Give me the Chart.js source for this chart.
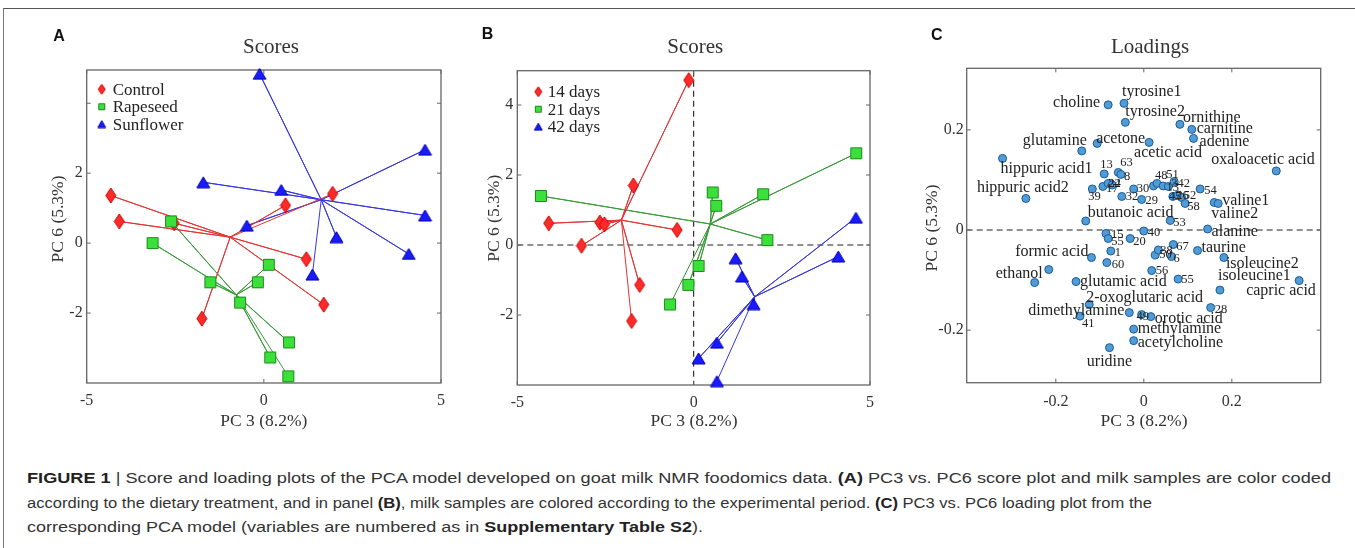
<!DOCTYPE html>
<html>
<head>
<meta charset="utf-8">
<script src="https://cdn.jsdelivr.net/npm/chart.js@4.4.0/dist/chart.umd.min.js"></script>
<style>
  body { margin: 0; background: #fff; }
  #fig { position: relative; width: 1355px; height: 548px; overflow: hidden; background: #fff; }
  #frame { position: absolute; left: 3px; top: 8px; width: 1400px; height: 600px;
           border-top: 1px solid #555; border-left: 1px solid #777; }
  canvas { position: absolute; top: 0; }
  .cap { position: absolute; left: 27px; font-family: "Liberation Sans", Arial, sans-serif;
         font-size: 15.5px; color: #333; white-space: nowrap; transform-origin: 0 50%;
         line-height: 20px; height: 20px; }
  .cap b { font-weight: bold; color: #222; }
</style>
</head>
<body>
<div id="fig">
  <div id="frame"></div>
  <canvas id="cA"></canvas>
  <canvas id="cB"></canvas>
  <canvas id="cC"></canvas>
  <div class="cap" id="l1" data-w="1304" style="top:468px"><b>FIGURE 1</b> | Score and loading plots of the PCA model developed on goat milk NMR foodomics data. <b>(A)</b> PC3 vs. PC6 score plot and milk samples are color coded</div>
  <div class="cap" id="l2" data-w="1125" style="top:493px">according to the dietary treatment, and in panel <b>(B)</b>, milk samples are colored according to the experimental period. <b>(C)</b> PC3 vs. PC6 loading plot from the</div>
  <div class="cap" id="l3" data-w="676" style="top:517px">corresponding PCA model (variables are numbered as in <b>Supplementary Table S2</b>).</div>
</div>
<script>
// ---- panel A: diet groups (PC3, PC6) ----
const controlA   = [[-4.32,1.36],[-4.08,0.62],[-2.53,0.57],[-1.75,-2.16],[0.61,1.08],[1.20,-0.46],[1.69,-1.76],[1.94,1.41]];
const rapeseedA  = [[-2.62,0.62],[-3.14,0.00],[-1.51,-1.12],[0.14,-0.62],[-0.17,-1.12],[-0.67,-1.70],[0.71,-2.84],[0.18,-3.27],[0.69,-3.81]];
const sunflowerA = [[-0.12,4.84],[4.55,2.67],[-1.71,1.74],[0.49,1.52],[-0.48,0.50],[2.05,0.17],[4.55,0.79],[4.09,-0.31],[1.37,-0.90]];
const centersA   = [[-0.95,0.17],[-0.78,-1.48],[1.62,1.24]];
const legendA    = ["Control", "Rapeseed", "Sunflower"];

// ---- panel B: sampling period ----
const days14 = [[-0.14,4.71],[-1.71,1.70],[-4.11,0.62],[-2.66,0.64],[-2.53,0.59],[-3.18,-0.02],[-0.47,0.43],[-1.53,-1.14],[-1.76,-2.17]];
const days21 = [[-4.33,1.40],[4.61,2.62],[0.54,1.50],[0.64,1.12],[1.97,1.45],[2.09,0.14],[0.14,-0.60],[-0.15,-1.14],[-0.67,-1.70]];
const days42 = [[4.60,0.78],[4.10,-0.33],[1.19,-0.38],[1.37,-0.90],[1.70,-1.69],[0.66,-2.79],[0.14,-3.24],[0.66,-3.89]];
const centersB = [[-2.05,0.71],[0.47,0.60],[1.73,-1.48]];
const legendB  = ["14 days", "21 days", "42 days"];

// score axes
const scoreXTicks = [-5, 0, 5];
const scoreYTicks = [-2, 0, 2, 4];

// ---- panel C: loadings ----
const loadX = [-0.321,-0.268,-0.141,-0.106,-0.081,-0.045,-0.042,0.012,-0.090,-0.058,-0.052,-0.117,-0.093,-0.081,-0.072,-0.050,-0.023,-0.005,
  -0.132,-0.086,-0.081,-0.031,0.000,-0.075,-0.119,-0.084,-0.216,-0.248,-0.154,-0.124,-0.145,-0.033,-0.005,0.016,-0.023,-0.023,-0.078,
  0.026,0.033,0.018,0.022,0.030,0.044,0.056,0.069,0.066,0.078,0.086,0.094,0.128,0.160,0.169,0.060,0.145,0.082,0.109,0.113,0.301,
  0.067,0.122,0.063,0.078,0.182,0.173,0.353,0.152];
const loadY = [0.143,0.063,0.158,0.173,0.250,0.253,0.215,0.175,0.112,0.115,0.111,0.082,0.087,0.093,0.090,0.067,0.082,0.061,
  0.018,-0.007,-0.017,-0.017,-0.002,-0.042,-0.055,-0.065,-0.079,-0.105,-0.103,-0.149,-0.172,-0.165,-0.169,-0.173,-0.198,-0.221,-0.235,
  -0.050,-0.040,-0.081,0.088,0.093,0.088,0.087,0.097,0.067,0.070,0.065,0.053,0.082,0.055,0.053,0.019,0.002,0.211,0.201,0.183,0.118,
  -0.029,-0.041,-0.053,-0.098,-0.055,-0.120,-0.101,-0.155];
const loadName = ["hippuric acid1","hippuric acid2","glutamine","acetone","choline","tyrosine1","tyrosine2","acetic acid","13","63","8","39","17","22","24","32","30","29",
  "butanoic acid","15","55","20","40","1","formic acid","60","ethanol","","glutamic acid","2-oxoglutaric acid","41","dimethylamine","49","orotic acid","methylamine","acetylcholine","uridine",
  "50","38","56","","48","51","13","342","45","26","52","58","54","valine2","valine1","53","alanine","ornithine","carnitine","adenine","oxaloacetic acid",
  "67","taurine","6","55","isoleucine2","isoleucine1","capric acid","28"];
const loadTicks = [-0.2, 0, 0.2];

// label placement for panel C: [align, dx px, dy px]
const labelPlace = [["l",-2,10.6],["l",-49,-11],["r",5,-10],["l",-1,-5],["r",-8,-2],["l",-2,-12],["l",0,-11],["l",-15,10],
  ["l",-4,-9],["l",2,-10],["l",3,2],["l",-4,8],["l",3,2],["l",0,0],["l",-4,-1],["l",4,0],["l",3,0],["l",4,1],
  ["l",2,-8],["l",5,1],["l",3,3],["l",3,3],["l",4,2],["l",4,2],["r",-3,-5.6],["l",5,2],["r",-6,4],["l",0,0],["l",4,0],["l",-3,-7],
  ["l",2,8],["r",-5,-2],["l",-5,2],["l",4,2],["l",4,0],["l",4,2],["c",0,13.7],
  ["l",4,0],["l",2,1],["l",4,0],["l",0,0],["l",-2,-8],["l",3,-11],["l",-2,1],["l",-3,2],["l",-4,0],["l",-2,1],["l",2,-2],["l",2,3],["l",4,2],
  ["l",-3,11],["l",4,-3],["l",3,2],["l",4,3],["l",3,-7],["l",5,-1],["l",6,3],["l",-65,-11],
  ["l",3,2],["l",4,-3],["l",2,2],["l",3,1],["l",2,6],["l",-2,-14],["l",-53,10],["l",4,2]];

const SERIF = '"Liberation Serif", "Times New Roman", serif';
const RED = { fill: "#ff2b2b", edge: "#c40000", line: "#e53333" };
const GRN = { fill: "#3be03b", edge: "#1c8a1c", line: "#3a9a3a" };
const BLU = { fill: "#1a1aff", edge: "#0000a8", line: "#3636e0" };

function marker(shape, w, h, fill, stroke) {
  const c = document.createElement("canvas");
  c.width = w + 2; c.height = h + 2;
  const g = c.getContext("2d");
  g.translate(1, 1);
  g.beginPath();
  if (shape === "diamond") { g.moveTo(w/2, 0); g.lineTo(w, h/2); g.lineTo(w/2, h); g.lineTo(0, h/2); }
  else if (shape === "square") { g.rect(0.5, 0.5, w - 1, h - 1); }
  else { g.moveTo(w/2, 0); g.lineTo(w, h); g.lineTo(0, h); }
  g.closePath();
  g.fillStyle = fill; g.fill();
  g.strokeStyle = stroke; g.lineWidth = 1; g.stroke();
  return c;
}

const bigM = [marker("diamond", 10, 15, RED.fill, RED.edge), marker("square", 12, 12, GRN.fill, GRN.edge), marker("tri", 13, 11, BLU.fill, BLU.edge)];
const smallM = [marker("diamond", 7, 10, RED.fill, RED.edge), marker("square", 7, 7, GRN.fill, GRN.edge), marker("tri", 8, 7, BLU.fill, BLU.edge)];

const pts = arr => arr.map(([x, y]) => ({ x, y }));
function star(arr, c) {
  const out = [];
  arr.forEach(([x, y]) => { out.push({ x: c[0], y: c[1] }); out.push({ x, y }); });
  return out;
}

function axis(min, max, ticks, pad, label, fit) {
  return {
    type: "linear", min, max,
    afterBuildTicks: s => { s.ticks = ticks.map(v => ({ value: v })); },
    afterFit: fit,
    grid: { display: false, drawTicks: false },
    border: { display: false },
    ticks: { padding: pad, color: "#333", autoSkip: false, maxRotation: 0,
             font: { family: SERIF, size: 16 }, callback: label }
  };
}

function groupSets(groups, centers) {
  const cols = [RED, GRN, BLU];
  const sets = [];
  groups.forEach((g, i) => {
    sets.push({ data: star(g, centers[i]), showLine: true, borderColor: cols[i].line, borderWidth: 1,
                pointRadius: 0, order: 10 + i, clip: false });
  });
  groups.forEach((g, i) => {
    sets.push({ data: pts(g), pointStyle: bigM[i], pointRadius: 7, order: 3 - i, clip: false });
  });
  return sets;
}

function panel(id, box, frame, o) {
  const cv = document.getElementById(id);
  cv.style.left = box.left + "px";
  cv.width = box.w; cv.height = box.h;
  cv.style.width = box.w + "px"; cv.style.height = box.h + "px";
  const X = v => v - box.left;
  const decor = {
    id: "decor",
    beforeDatasetsDraw(chart) {
      const { ctx, chartArea: a, scales: { x, y } } = chart;
      ctx.save();
      ctx.strokeStyle = "#222"; ctx.lineWidth = 1.1; ctx.setLineDash([6, 4]);
      if (o.zeroX) { const px = x.getPixelForValue(0); ctx.beginPath(); ctx.moveTo(px, a.top); ctx.lineTo(px, a.bottom); ctx.stroke(); }
      if (o.zeroY) { const py = y.getPixelForValue(0); ctx.beginPath(); ctx.moveTo(a.left, py); ctx.lineTo(a.right, py); ctx.stroke(); }
      ctx.setLineDash([]);
      ctx.strokeStyle = "#666"; ctx.lineWidth = 1.3;
      ctx.strokeRect(a.left, a.top, a.right - a.left, a.bottom - a.top);
      ctx.lineWidth = 1;
      ctx.beginPath();
      o.xt.forEach(v => { const px = x.getPixelForValue(v);
        ctx.moveTo(px, a.bottom); ctx.lineTo(px, a.bottom - 4); ctx.moveTo(px, a.top); ctx.lineTo(px, a.top + 4); });
      o.yt.forEach(v => { const py = y.getPixelForValue(v);
        ctx.moveTo(a.left, py); ctx.lineTo(a.left + 4, py); ctx.moveTo(a.right, py); ctx.lineTo(a.right - 4, py); });
      ctx.stroke();
      ctx.restore();
    },
    afterDraw(chart) {
      const { ctx, chartArea: a, scales: { x, y } } = chart;
      ctx.save();
      ctx.fillStyle = "#111";
      ctx.font = 'bold 16px "Liberation Sans", Arial, sans-serif';
      ctx.textAlign = "left"; ctx.textBaseline = "alphabetic";
      ctx.fillText(o.letter[0], X(o.letter[1]), o.letter[2]);
      ctx.fillStyle = "#333";
      ctx.font = "21px " + SERIF;
      ctx.textAlign = "center"; ctx.textBaseline = "middle";
      ctx.fillText(o.title[0], X(o.title[1]), o.title[2]);
      ctx.font = "17.5px " + SERIF;
      ctx.fillText("PC 3 (8.2%)", X(o.xlab[0]), o.xlab[1]);
      ctx.save();
      ctx.translate(X(o.ylab[0]), o.ylab[1]); ctx.rotate(-Math.PI / 2);
      ctx.fillText("PC 6 (5.3%)", 0, 0);
      ctx.restore();
      if (o.legend) {
        const L = o.legend;
        ctx.font = "17px " + SERIF; ctx.textAlign = "left"; ctx.fillStyle = "#222";
        L.names.forEach((n, i) => {
          const m = smallM[i], yy = L.y + i * L.dy;
          ctx.drawImage(m, X(L.mx) - m.width / 2, yy - m.height / 2);
          ctx.fillText(n, X(L.tx), yy + 1);
        });
      }
      if (o.labels) {
        ctx.fillStyle = "#222"; ctx.textBaseline = "middle";
        loadName.forEach((n, i) => {
          if (!n) return;
          const [al, dx, dy] = labelPlace[i];
          ctx.font = (/^\d+$/.test(n) ? "12.5px " : "16px ") + SERIF;
          ctx.textAlign = al === "l" ? "left" : al === "r" ? "right" : "center";
          ctx.fillText(n, x.getPixelForValue(loadX[i]) + dx, y.getPixelForValue(loadY[i]) + dy);
        });
      }
      ctx.restore();
    }
  };
  const yw = 40, xh = 40;
  new Chart(cv, {
    type: "scatter",
    data: { datasets: o.datasets },
    options: {
      responsive: false, animation: false, events: [],
      layout: { padding: { left: frame.l - box.left - yw, right: box.left + box.w - frame.r,
                           top: frame.t, bottom: box.h - frame.b - xh } },
      plugins: { legend: { display: false }, tooltip: { enabled: false }, title: { display: false } },
      scales: {
        x: axis(o.xr[0], o.xr[1], o.xt, o.xpad, v => String(v), s => { s.height = xh; }),
        y: axis(o.yr[0], o.yr[1], o.yt, o.ypad, o.ylabel, s => { s.width = yw; })
      }
    },
    plugins: [decor]
  });
}

panel("cA", { left: 0, top: 0, w: 462, h: 440 }, { l: 86.7, t: 70, r: 441, b: 383 }, {
  datasets: groupSets([controlA, rapeseedA, sunflowerA], centersA),
  xr: [-5, 5], yr: [-4, 4.95], xt: scoreXTicks, yt: scoreYTicks, xpad: 8, ypad: 4,
  ylabel: v => (v === 4 ? "" : String(v)),
  letter: ["A", 53.3, 40.7], title: ["Scores", 271, 47.3], xlab: [263.8, 421.7], ylab: [58.3, 219],
  legend: { names: legendA, mx: 101.7, tx: 112.7, y: 89.3, dy: 17.4 }
});

panel("cB", { left: 462, top: 0, w: 440, h: 440 }, { l: 517.3, t: 70.7, r: 870, b: 385 }, {
  datasets: groupSets([days14, days21, days42], centersB),
  xr: [-5, 5], yr: [-4, 4.98], xt: scoreXTicks, yt: scoreYTicks, xpad: 8, ypad: 4,
  ylabel: v => String(v), zeroX: true, zeroY: true,
  letter: ["B", 481.7, 39.3], title: ["Scores", 695.3, 47.3], xlab: [694, 421.7], ylab: [494, 218.3],
  legend: { names: legendB, mx: 538.3, tx: 547.7, y: 91.7, dy: 17.5 }
});

panel("cC", { left: 902, top: 0, w: 453, h: 440 }, { l: 966.7, t: 68.3, r: 1320.7, b: 382.7 }, {
  datasets: [{ data: loadX.map((v, i) => ({ x: v, y: loadY[i] })), pointRadius: 4, pointBorderWidth: 1,
               backgroundColor: "#4f9cd6", borderColor: "#1d5a98", clip: false }],
  xr: [-0.4025, 0.402], yr: [-0.305, 0.323], xt: loadTicks, yt: loadTicks, xpad: 9, ypad: 3,
  ylabel: v => String(v), zeroY: true, labels: true,
  letter: ["C", 931, 40], title: ["Loadings", 1150, 47.3], xlab: [1144, 421], ylab: [932, 228]
});

// fit caption lines to the widths in the reference
document.querySelectorAll(".cap").forEach(el => {
  const w = el.getBoundingClientRect().width;
  el.style.transform = "scaleX(" + (parseFloat(el.dataset.w) / w) + ")";
});
</script>
</body>
</html>
